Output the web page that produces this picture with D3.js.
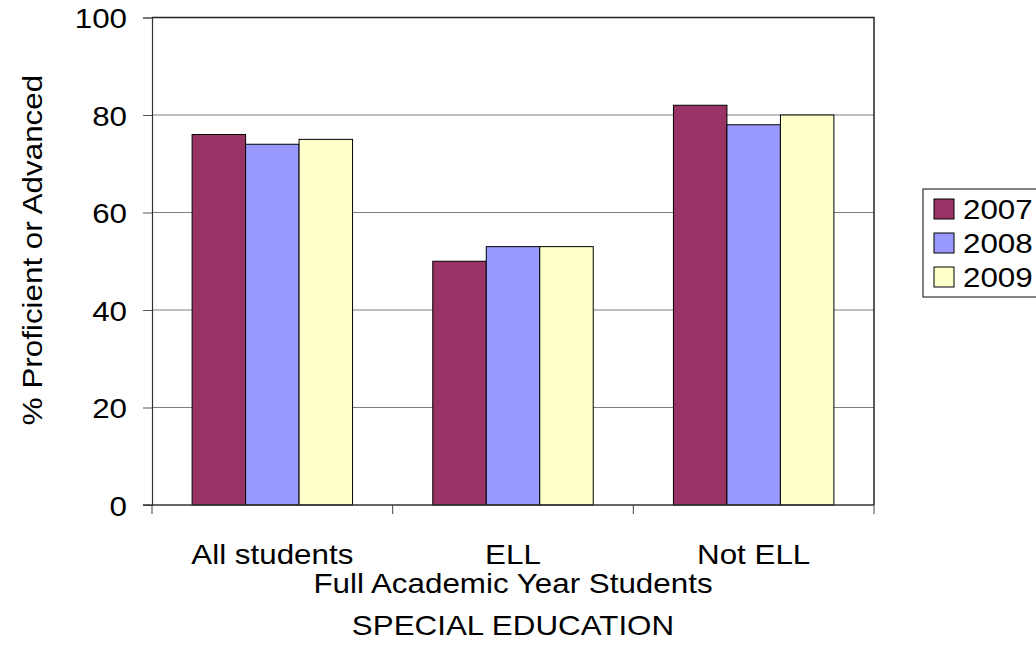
<!DOCTYPE html>
<html>
<head>
<meta charset="utf-8">
<script src="https://cdn.jsdelivr.net/npm/d3@7"></script>
<style>
  body { margin: 0; background: #fff; }
  svg text { font-family: "Liberation Sans", Arial, sans-serif; fill: #000; }
</style>
</head>
<body>
<svg id="chart" width="1036" height="665"></svg>
<script>
// Categories, series and their values
const categories = ["All students", "ELL", "Not ELL"];
const years = ["2007", "2008", "2009"];
const values2007 = [76, 50, 82];
const values2008 = [74, 53, 78];
const values2009 = [75, 53, 80];
const seriesColors = ["#993366", "#9999FF", "#FFFFCC"];
const yTicks = [0, 20, 40, 60, 80, 100];

const seriesValues = [values2007, values2008, values2009];
const rows = categories.map((c, i) => ({
  category: c,
  bars: years.map((y, j) => ({ year: y, value: seriesValues[j][i] }))
}));

const svg = d3.select("#chart");
const plot = { left: 152, top: 17.5, right: 874, bottom: 505 };
const FONT = "'Liberation Sans', Arial, sans-serif";
const FS = 28;        // font size
const SX = 1.12;      // horizontal widening of the lettering

// Places a label at (x, y) with the widened lettering; rotation optional
function label(parent, x, y, text, anchor, rotate, size) {
  const g = parent.append("g")
    .attr("transform", `translate(${x},${y})` + (rotate ? ` rotate(${rotate})` : ""));
  return g.append("text")
    .attr("transform", `scale(${SX},1)`)
    .attr("text-anchor", anchor || "middle")
    .attr("font-size", size || FS)
    .text(text);
}

const x = d3.scaleBand().domain(categories).range([plot.left, plot.right]).paddingInner(0).paddingOuter(0);
const inner = d3.scaleBand().domain(years).range([0, x.bandwidth()]).paddingInner(0).paddingOuter(0.75);
const y = d3.scaleLinear().domain([0, 100]).range([plot.bottom, plot.top]);

// Horizontal gridlines
svg.append("g").selectAll("line").data(yTicks.filter(t => t > 0)).join("line")
  .attr("x1", plot.left).attr("x2", plot.right)
  .attr("y1", d => y(d)).attr("y2", d => y(d))
  .attr("stroke", "#808080").attr("stroke-width", 1.2);

// Plot border (top and right)
svg.append("path")
  .attr("d", `M${plot.left},${plot.top}H${plot.right}V${plot.bottom}`)
  .attr("fill", "none").attr("stroke", "#222").attr("stroke-width", 1.5);

// Bars
const groups = svg.append("g").selectAll("g").data(rows).join("g")
  .attr("transform", d => `translate(${x(d.category)},0)`);
groups.selectAll("rect").data(d => d.bars).join("rect")
  .attr("x", d => inner(d.year))
  .attr("width", inner.bandwidth())
  .attr("y", d => y(d.value))
  .attr("height", d => y(0) - y(d.value))
  .attr("fill", (d, i) => seriesColors[i])
  .attr("stroke", "#000").attr("stroke-width", 1);

// Y axis
const yAxis = svg.append("g").attr("transform", `translate(${plot.left},0)`)
  .call(d3.axisLeft(y).tickValues(yTicks).tickSize(9).tickPadding(16).tickFormat(d3.format("d")));
yAxis.select(".domain").attr("stroke", "#333").attr("stroke-width", 1.2);
yAxis.selectAll(".tick line").attr("stroke", "#555");
yAxis.selectAll(".tick text")
  .attr("x", -25 / SX)
  .attr("transform", `scale(${SX},1)`)
  .attr("font-size", FS).attr("dy", "0.36em")
  .style("font-family", FONT);

// X axis with ticks at category boundaries
const xAxisG = svg.append("g").attr("transform", `translate(0,${plot.bottom})`);
xAxisG.append("line").attr("x1", plot.left - 9).attr("x2", plot.right)
  .attr("stroke", "#333").attr("stroke-width", 1.5);
const boundaries = categories.map(c => x(c)).concat([plot.right]);
xAxisG.selectAll("line.tick").data(boundaries).join("line").attr("class", "tick")
  .attr("x1", d => d).attr("x2", d => d).attr("y1", 0).attr("y2", 9)
  .attr("stroke", "#444");
categories.forEach(c => label(xAxisG, x(c) + x.bandwidth() / 2, 59, c));

// Axis titles
const cx = (plot.left + plot.right) / 2;
label(svg, cx, 593, "Full Academic Year Students");
label(svg, cx, 635, "SPECIAL EDUCATION");
label(svg, 42, 250, "% Proficient or Advanced", "middle", -90);

// Legend
const legend = svg.append("g").attr("transform", "translate(923,189)");
legend.append("rect").attr("x", 0).attr("y", 0).attr("width", 140).attr("height", 108)
  .attr("fill", "#fff").attr("stroke", "#333").attr("stroke-width", 1.2);
const items = legend.selectAll("g").data(years).join("g")
  .attr("transform", (d, i) => `translate(11,${20 + i * 34})`);
items.append("rect").attr("x", 0).attr("y", -10).attr("width", 20).attr("height", 20)
  .attr("fill", (d, i) => seriesColors[i]).attr("stroke", "#000").attr("stroke-width", 1);
items.each(function(d) {
  label(d3.select(this), 29, 10, d, "start");
});
</script>
</body>
</html>
